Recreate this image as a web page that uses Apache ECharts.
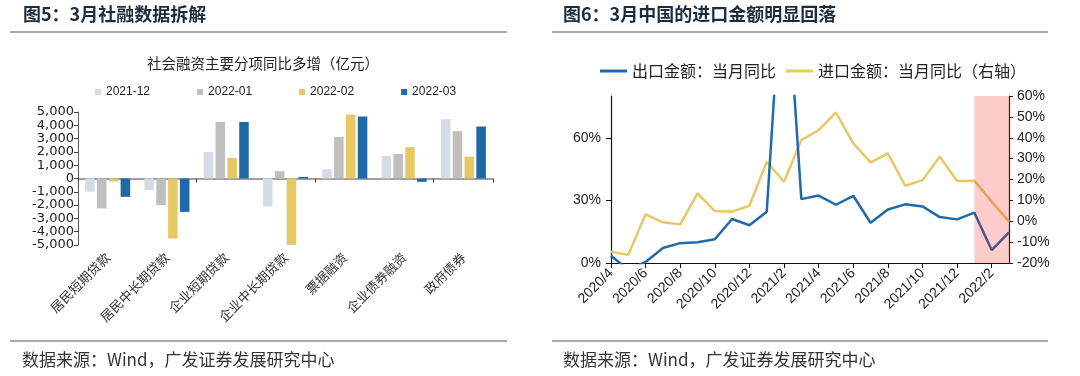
<!DOCTYPE html>
<html><head><meta charset="utf-8">
<script src="https://cdn.jsdelivr.net/npm/echarts@6/dist/echarts.min.js"></script>
<style>html,body{margin:0;padding:0;background:#fff}#c{width:1080px;height:376px}</style>
</head><body><div id="c"></div>
<script>
// ---- Left chart data (亿元) ----
const barCategories = ['居民短期贷款','居民中长期贷款','企业短期贷款','企业中长期贷款','票据融资','企业债券融资','政府债券'];
const barSeriesNames = ['2021-12','2022-01','2022-02','2022-03'];
const v202112 = [-1000, -880, 2000, -2100, 700, 1700, 4460];
const v202201 = [-2250, -2000, 4250, 550, 3130, 1850, 3560];
const v202202 = [-230, -4510, 1550, -4990, 4810, 2350, 1650];
const v202203 = [-1380, -2510, 4250, 120, 4660, -250, 3910];

// ---- Right chart data (%) ----
const months = ['2020/4','2020/5','2020/6','2020/7','2020/8','2020/9','2020/10','2020/11','2020/12',
  '2021/1','2021/2','2021/3','2021/4','2021/5','2021/6','2021/7','2021/8','2021/9','2021/10','2021/11','2021/12',
  '2022/1','2022/2','2022/3'];
const exportYoY = [3.5, -3.3, 0.5, 7.2, 9.5, 9.9, 11.4, 21.1, 18.1, 24.5, 154.9, 30.6, 32.3, 27.9, 32.2, 19.3, 25.6, 28.1, 27.1, 22.0, 20.9, 24.1, 6.2, 14.7];
const importYoY = [-14.6, -16.1, 3.3, -0.5, -1.5, 13.4, 4.9, 4.6, 7.4, 28.5, 18.9, 38.9, 43.7, 52.1, 37.3, 28.2, 32.5, 17.0, 19.7, 30.9, 19.3, 19.4, 9.4, -0.2];
const leftAxisTicks = [0, 30, 60];
const shadeRange = ['2022/1', '2022/3'];
const lineNames = ['出口金额：当月同比', '进口金额：当月同比（右轴）'];

const FONT = 'Liberation Sans, Noto Sans CJK SC, sans-serif';
const CJK = 'Noto Sans CJK SC, sans-serif';
const barColors = ['#D6DCE5', '#BFBFBF', '#E6C865', '#1F6AA6'];
const barValues = [v202112, v202201, v202202, v202203];

const chart = echarts.init(document.getElementById('c'), null, {renderer: 'canvas'});

const barSeries = barSeriesNames.map((n, i) => ({
  name: n, type: 'bar', xAxisIndex: 0, yAxisIndex: 0,
  data: barValues[i], barGap: '24%', barCategoryGap: '24%',
  itemStyle: {color: barColors[i]}
}));

const option = {
  backgroundColor: '#fff',
  animation: false,
  textStyle: {fontFamily: FONT},
  grid: [
    {left: 78, right: 587, top: 112, bottom: 131},
    {left: 611, right: 71, top: 96, bottom: 113}
  ],
  legend: [
    {data: barSeriesNames, left: 90, top: 81, icon: 'rect', itemWidth: 6, itemHeight: 6,
     itemGap: 47, textStyle: {fontSize: 12, color: '#222', fontFamily: FONT}},
    {data: lineNames, left: 595, top: 58, icon: 'rect', itemWidth: 27, itemHeight: 3,
     itemGap: 10, textStyle: {fontSize: 16, color: '#222', fontFamily: CJK}}
  ],
  xAxis: [
    {type: 'category', gridIndex: 0, data: barCategories,
     axisLine: {onZero: true, lineStyle: {color: '#808080', width: 1.5}},
     axisTick: {show: true, length: 4, lineStyle: {color: '#404040'}},
     axisLabel: {show: false}},
    {type: 'category', gridIndex: 0, data: barCategories, position: 'bottom',
     axisLine: {show: false, onZero: false}, axisTick: {show: false},
     axisLabel: {rotate: 45, margin: 10, fontSize: 13, color: '#333', fontFamily: CJK}},
    {type: 'category', gridIndex: 1, data: months, boundaryGap: false,
     axisLine: {onZero: false, lineStyle: {color: '#111', width: 1.2}},
     axisTick: {show: true, interval: 1, length: 5, lineStyle: {color: '#111'}},
     axisLabel: {interval: 1, rotate: 45, margin: 8, fontSize: 14, color: '#222', fontFamily: FONT}}
  ],
  yAxis: [
    {type: 'value', gridIndex: 0, min: -5000, max: 5000, interval: 1000,
     axisLine: {show: true, lineStyle: {color: '#595959'}},
     axisTick: {show: true, length: 4, lineStyle: {color: '#404040'}},
     splitLine: {show: false},
     axisLabel: {fontSize: 13, color: '#222', margin: 4, fontFamily: 'DejaVu Sans, sans-serif',
       formatter: v => (v < 0 ? '-' : '') + Math.abs(v).toLocaleString('en-US')}},
    {type: 'value', gridIndex: 1, min: 0, max: 80, interval: 10, position: 'left',
     axisLine: {show: true, lineStyle: {color: '#111', width: 1.2}},
     axisTick: {show: true, length: 5, customValues: leftAxisTicks, lineStyle: {color: '#111'}},
     splitLine: {show: false},
     axisLabel: {fontSize: 14, color: '#222', margin: 10, customValues: leftAxisTicks, formatter: v => v + '%'}},
    {type: 'value', gridIndex: 1, min: -20, max: 60, interval: 10, position: 'right',
     axisLine: {show: true, lineStyle: {color: '#222', width: 1.2}},
     axisTick: {show: true, length: 4, lineStyle: {color: '#222'}},
     splitLine: {show: false},
     axisLabel: {fontSize: 14, color: '#222', margin: 8, formatter: v => v + '%'}}
  ],
  series: barSeries.concat([
    {name: lineNames[0], type: 'line', xAxisIndex: 2, yAxisIndex: 1, data: exportYoY,
     symbol: 'none', lineStyle: {width: 2.5, color: '#1F6BAA'}, itemStyle: {color: '#1F6BAA'}, z: 3},
    {name: lineNames[1], type: 'line', xAxisIndex: 2, yAxisIndex: 2, data: importYoY,
     symbol: 'none', lineStyle: {width: 2.5, color: '#E8C765'}, itemStyle: {color: '#E8C765'}, z: 2,
     markArea: {silent: true, z: 10, itemStyle: {color: 'rgba(255,0,0,0.2)'},
       data: [[{xAxis: shadeRange[0]}, {xAxis: shadeRange[1]}]]}}
  ]),
  graphic: [
    {type: 'text', left: 23, top: 5, style: {text: '图5：3月社融数据拆解', font: 'bold 18px ' + CJK, fill: '#1d2b3e'}},
    {type: 'text', left: 563, top: 5, style: {text: '图6：3月中国的进口金额明显回落', font: 'bold 18px ' + CJK, fill: '#1d2b3e'}},
    {type: 'line', shape: {x1: 10, y1: 32, x2: 507, y2: 32}, style: {stroke: '#555', lineWidth: 1}},
    {type: 'line', shape: {x1: 552, y1: 32, x2: 1048, y2: 32}, style: {stroke: '#555', lineWidth: 1}},
    {type: 'line', shape: {x1: 10, y1: 341, x2: 507, y2: 341}, style: {stroke: '#555', lineWidth: 1}},
    {type: 'line', shape: {x1: 552, y1: 341, x2: 1048, y2: 341}, style: {stroke: '#555', lineWidth: 1}},
    {type: 'text', x: 263, y: 63, style: {text: '社会融资主要分项同比多增（亿元）', font: '14.5px ' + CJK, fill: '#222', align: 'center', verticalAlign: 'middle'}},
    {type: 'text', x: 22, y: 360, style: {text: '数据来源：Wind，广发证券发展研究中心', font: '17px ' + CJK, fill: '#333', verticalAlign: 'middle'}},
    {type: 'text', x: 563, y: 360, style: {text: '数据来源：Wind，广发证券发展研究中心', font: '17px ' + CJK, fill: '#333', verticalAlign: 'middle'}}
  ]
};
chart.setOption(option);
</script>
</body></html>
